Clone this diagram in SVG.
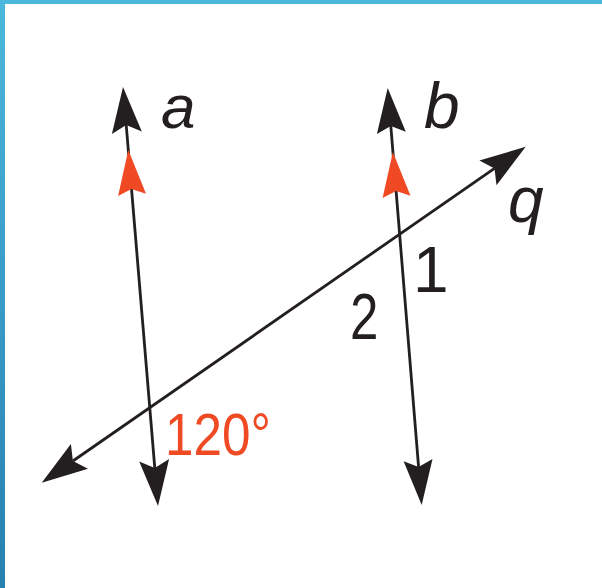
<svg xmlns="http://www.w3.org/2000/svg" width="602" height="588" viewBox="0 0 602 588">
  <defs>
    <linearGradient id="edge" x1="0" y1="0" x2="0" y2="1">
      <stop offset="0" stop-color="#4cb8dc"/>
      <stop offset="1" stop-color="#2680b0"/>
    </linearGradient>
    <style>
      .ln { stroke: #231f20; stroke-width: 2.8; fill: none; }
      .ah { fill: #231f20; }
      .rh { fill: #ef4a23; }
      .lbl { font-family: "Liberation Sans", Arial, sans-serif; fill: #231f20; }
      .it { font-style: italic; }
      .red { fill: #ef4a23; }
    </style>
  </defs>
  <rect x="0" y="0" width="602" height="588" fill="#ffffff"/>
  <rect x="0" y="0" width="602" height="4" fill="#4cb8dc"/>
  <rect x="0" y="0" width="5" height="588" fill="url(#edge)"/>

  <g id="connectors">
    <g id="line-a">
      <line class="ln" x1="126.2" y1="124.9" x2="154.8" y2="468.1"/>
      <polygon class="ah" points="123,87 141.8,131.6 126.2,124.9 111.9,134.1"/>
      <polygon class="ah" points="158,506 169.1,458.9 154.8,468.1 139.2,461.4"/>
      <polygon class="rh" points="128.3,150 146,193.7 131.5,188.9 118.1,196"/>
    </g>
    <g id="line-b">
      <line class="ln" x1="390.8" y1="125.9" x2="418.6" y2="467.1"/>
      <polygon class="ah" points="387.7,88 405.8,131.7 390.8,125.9 376.9,134"/>
      <polygon class="ah" points="421.7,505 432.5,459 418.6,467.1 403.6,461.3"/>
      <polygon class="rh" points="392.9,152 410.5,195.7 396.1,190.9 382.6,198"/>
    </g>
    <g id="line-q">
      <line class="ln" x1="72.9" y1="461" x2="494.5" y2="168.4"/>
      <polygon class="ah" points="525.7,146.7 496.5,185.2 494.5,168.4 479.4,160.6"/>
      <polygon class="ah" points="41.7,482.7 70.9,444.1 72.9,461 88,468.8"/>
    </g>
  </g>

  <g id="labels">
    <text id="label-a" class="lbl it" x="161" y="128" font-size="62">a</text>
    <text id="label-b" class="lbl it" x="424" y="128" font-size="64">b</text>
    <text id="label-q" class="lbl it" x="508" y="222" font-size="64">q</text>
    <text id="label-1" class="lbl" x="413" y="291.7" font-size="64">1</text>
    <text id="label-2" class="lbl" x="350" y="339" font-size="64" textLength="28.4" lengthAdjust="spacingAndGlyphs">2</text>
    <text id="label-120" class="lbl red" x="165" y="455" font-size="59" textLength="106" lengthAdjust="spacingAndGlyphs">120°</text>
  </g>
</svg>
